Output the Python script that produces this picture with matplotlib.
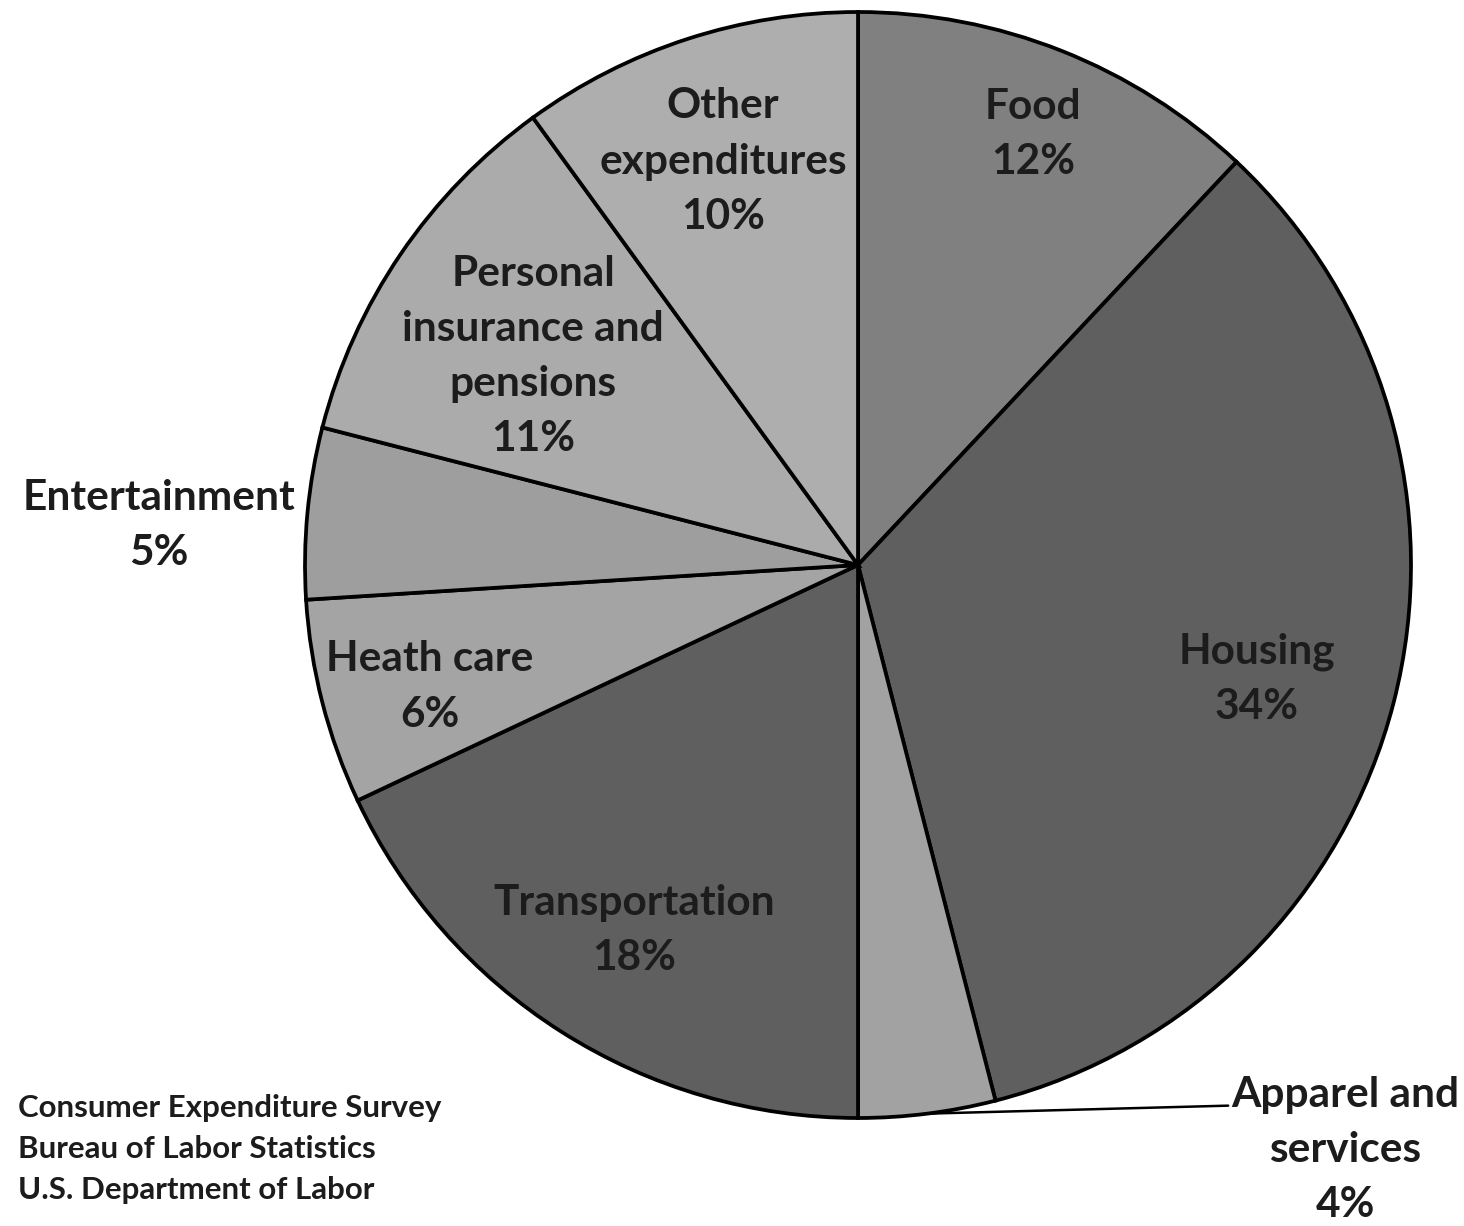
import numpy as np
import matplotlib.pyplot as plt

# 支出类别与占比(%)
categories = ['Food', 'Housing', 'Apparel and\nservices', 'Transportation',
              'Heath care', 'Entertainment', 'Personal\ninsurance and\npensions',
              'Other\nexpenditures']
shares = [12, 34, 4, 18, 6, 5, 11, 10]
colors = ['#808080', '#5f5f5f', '#a2a2a2', '#5f5f5f',
          '#a4a4a4', '#9e9e9e', '#ababab', '#aeaeae']
# 标签到圆心的距离(半径倍数)
label_dist = [0.86, 0.745, None, 0.757, 0.80, 1.27, 0.71, 0.79]
source_lines = ['Consumer Expenditure Survey', 'Bureau of Labor Statistics',
                'U.S. Department of Labor']

W, H = 1464, 1226
cx, cy, R = 858, H - 565, 553

plt.rcParams['font.family'] = ['Lato', 'DejaVu Sans']
fig = plt.figure(figsize=(W / 100, H / 100), dpi=100)
ax = fig.add_axes([0, 0, 1, 1])

wedges, _ = ax.pie(shares, colors=colors, startangle=90, counterclock=False,
                   center=(cx, cy), radius=R, frame=True,
                   wedgeprops=dict(edgecolor='black', linewidth=2.7))
ax.set_xlim(0, W)
ax.set_ylim(0, H)
ax.set_aspect('equal')
ax.axis('off')

txt_kw = dict(ha='center', va='center', fontsize=30.5, fontweight='bold',
              color='#1c1c1c', linespacing=1.55)
for w, name, pct, d in zip(wedges, categories, shares, label_dist):
    mid = np.deg2rad((w.theta1 + w.theta2) / 2)
    label = '{}\n{}%'.format(name, pct)
    if d is None:
        # 服装类用引线标注在外面
        ex, ey = cx + R * np.cos(mid), cy + R * np.sin(mid)
        ax.annotate(label, xy=(ex, ey), xytext=(1345, H - 1150),
                    arrowprops=dict(arrowstyle='-', color='black', lw=1.8,
                                    shrinkA=0, shrinkB=0, relpos=(0, 0.8)),
                    **txt_kw)
        continue
    tx = cx + d * R * np.cos(mid)
    ty = cy + d * R * np.sin(mid) - 12
    if d > 1:
        ty -= 15
    ax.text(tx, ty, label, **txt_kw)

for i, line in enumerate(source_lines):
    ax.text(18, H - 1108 - 41 * i, line, ha='left', va='center', fontsize=22.5,
            fontweight='bold', color='#1c1c1c')

fig.savefig('out.png', dpi=100)
